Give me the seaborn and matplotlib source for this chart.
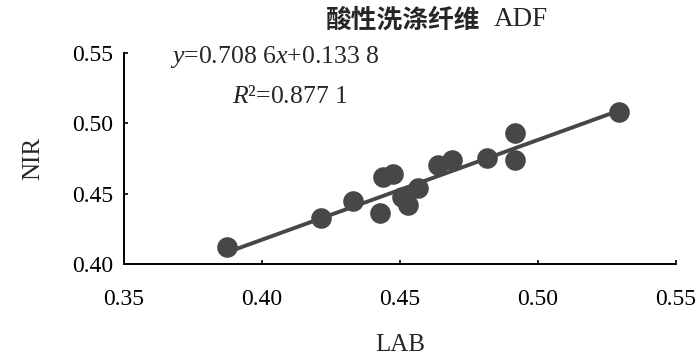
import numpy as np
import pandas as pd
import matplotlib
matplotlib.use("Agg")
import matplotlib.pyplot as plt
import seaborn as sns

# values
lab = [0.3872, 0.4213, 0.4331, 0.4428, 0.4437, 0.4474, 0.4530, 0.4506,
       0.4566, 0.4639, 0.4688, 0.4816, 0.4917, 0.4917, 0.5295]
nir = [0.4123, 0.4324, 0.4447, 0.4364, 0.4615, 0.4639, 0.4419, 0.4478,
       0.4537, 0.4703, 0.4738, 0.4750, 0.4932, 0.4738, 0.5081]
slope = 0.7086
intercept = 0.1338
xticks = [0.35, 0.40, 0.45, 0.50, 0.55]
yticks = [0.40, 0.45, 0.50, 0.55]

sns.set_theme(style="white")
plt.rcParams['font.family'] = ['Liberation Serif', 'Noto Sans CJK SC']
plt.rcParams['mathtext.fontset'] = 'custom'
plt.rcParams['mathtext.rm'] = 'Liberation Serif'
plt.rcParams['mathtext.it'] = 'Liberation Serif:italic'

df = pd.DataFrame({'LAB': lab, 'NIR': nir})
xs = np.array([min(lab), max(lab)])
fit = pd.DataFrame({'LAB': xs, 'NIR': slope * xs + intercept})

fig = plt.figure(figsize=(7, 3.56), dpi=100)
ax = fig.add_axes([0.1771, 0.2584, 0.7886, 0.5936])

col = '#474747'
sns.lineplot(data=fit, x='LAB', y='NIR', color=col, lw=2.8, ax=ax)
sns.scatterplot(data=df, x='LAB', y='NIR', color=col, s=220, edgecolor=col,
                linewidth=0, ax=ax, zorder=3, clip_on=False)

ax.set_xlim(0.35, 0.55)
ax.set_ylim(0.40, 0.55)
ax.set_xticks(xticks)
ax.set_yticks(yticks)
ax.set_xticklabels(['%.2f' % v for v in xticks])
ax.set_yticklabels(['%.2f' % v for v in yticks])
ax.tick_params(axis='both', direction='in', length=3, width=1.2,
               colors='black', labelsize=17, left=True, bottom=True)
ax.tick_params(axis='x', pad=18)
ax.tick_params(axis='y', pad=8)
sns.despine(ax=ax)
for s in ['left', 'bottom']:
    ax.spines[s].set_color('black')
    ax.spines[s].set_linewidth(1.4)

ax.set_xlabel('LAB', fontsize=18, labelpad=17)
ax.set_ylabel('NIR', fontsize=18, labelpad=20)

fig.text(0.243, 0.84, '$y$=0.708 6$x$+0.133 8', fontsize=18.5, va='center')
fig.text(0.331, 0.7275, '$R$²=0.877 1', fontsize=18.5, va='center')
fig.text(0.686, 0.944, '酸性洗涤纤维', fontsize=18.5, fontweight='bold',
         family=['Noto Sans CJK SC'], ha='right', va='center')
fig.text(0.706, 0.944, 'ADF', fontsize=19.5, ha='left', va='center')

fig.savefig('out.png', dpi=100)
